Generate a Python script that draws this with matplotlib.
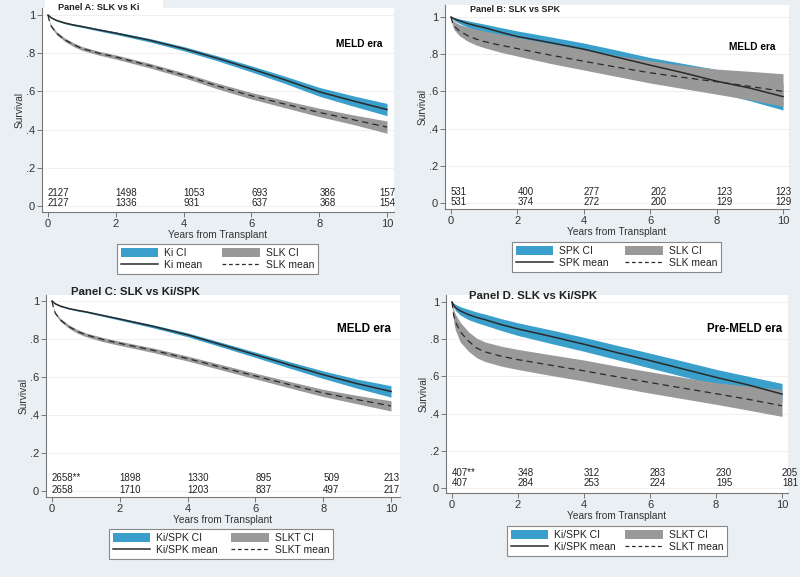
import numpy as np
import matplotlib
matplotlib.use('Agg')
import matplotlib.pyplot as plt
from matplotlib.patches import Patch, Rectangle
from matplotlib.lines import Line2D

W, H = 800, 577
BG = '#e9eff2'
BLUE = '#3a9fca'
GRAY = '#999999'
LINE = '#2a2a2a'

years = [0, 0.05, 0.1, 0.25, 0.5, 0.75, 1, 1.5, 2, 3, 4, 5, 6, 7, 8, 9, 10]
risk_years = [0, 2, 4, 6, 8, 10]

# Panel A: SLK vs Ki (MELD era)
a_ki_mean = [1.0, 0.992, 0.985, 0.972, 0.958, 0.948, 0.94, 0.922, 0.905, 0.868, 0.824, 0.773, 0.718, 0.66, 0.598, 0.55, 0.505]
a_ki_lo = [1.0, 0.991, 0.983, 0.969, 0.954, 0.9435, 0.935, 0.916, 0.898, 0.859, 0.813, 0.760, 0.702, 0.641, 0.575, 0.523, 0.473]
a_ki_hi = [1.0, 0.993, 0.987, 0.975, 0.962, 0.9525, 0.945, 0.928, 0.912, 0.877, 0.835, 0.786, 0.734, 0.679, 0.621, 0.577, 0.537]
a_slk_mean = [1.0, 0.96, 0.94, 0.905, 0.87, 0.845, 0.825, 0.80, 0.78, 0.735, 0.685, 0.628, 0.577, 0.533, 0.49, 0.452, 0.413]
a_slk_lo = [1.0, 0.955, 0.934, 0.897, 0.861, 0.835, 0.815, 0.79, 0.769, 0.723, 0.672, 0.613, 0.56, 0.514, 0.468, 0.427, 0.381]
a_slk_hi = [1.0, 0.965, 0.946, 0.913, 0.879, 0.855, 0.835, 0.81, 0.791, 0.747, 0.698, 0.643, 0.594, 0.552, 0.512, 0.477, 0.445]
a_risk_1 = ['2127', '1498', '1053', '693', '386', '157']
a_risk_2 = ['2127', '1336', '931', '637', '368', '154']

# Panel B: SLK vs SPK (MELD era)
b_spk_mean = [1.0, 0.995, 0.99, 0.98, 0.965, 0.953, 0.943, 0.918, 0.895, 0.862, 0.827, 0.784, 0.741, 0.70, 0.655, 0.618, 0.572]
b_spk_lo = [1.0, 0.99, 0.98, 0.965, 0.945, 0.93, 0.915, 0.887, 0.86, 0.82, 0.78, 0.735, 0.69, 0.645, 0.595, 0.55, 0.50]
b_spk_hi = [1.0, 0.999, 0.997, 0.99, 0.98, 0.971, 0.962, 0.943, 0.925, 0.893, 0.86, 0.822, 0.782, 0.75, 0.718, 0.68, 0.645]
b_slk_mean = [1.0, 0.965, 0.95, 0.925, 0.9, 0.882, 0.868, 0.848, 0.83, 0.795, 0.762, 0.73, 0.70, 0.675, 0.652, 0.627, 0.60]
b_slk_lo = [1.0, 0.95, 0.93, 0.90, 0.87, 0.85, 0.835, 0.81, 0.79, 0.75, 0.715, 0.68, 0.645, 0.615, 0.585, 0.555, 0.52]
b_slk_hi = [1.0, 0.985, 0.975, 0.96, 0.945, 0.934, 0.925, 0.907, 0.89, 0.857, 0.825, 0.793, 0.765, 0.74, 0.72, 0.708, 0.695]
b_risk_1 = ['531', '400', '277', '202', '123', '123']
b_risk_2 = ['531', '374', '272', '200', '129', '129']

# Panel C: SLK vs Ki/SPK (MELD era)
c_ki_mean = [1.0, 0.992, 0.985, 0.973, 0.96, 0.951, 0.943, 0.924, 0.905, 0.866, 0.822, 0.77, 0.717, 0.664, 0.612, 0.565, 0.524]
c_ki_lo = [1.0, 0.991, 0.983, 0.970, 0.957, 0.947, 0.939, 0.919, 0.899, 0.858, 0.812, 0.758, 0.703, 0.647, 0.592, 0.541, 0.494]
c_ki_hi = [1.0, 0.993, 0.987, 0.976, 0.963, 0.955, 0.947, 0.929, 0.911, 0.874, 0.832, 0.782, 0.731, 0.681, 0.632, 0.589, 0.554]
c_slk_mean = [1.0, 0.958, 0.935, 0.90, 0.865, 0.84, 0.822, 0.797, 0.777, 0.74, 0.697, 0.651, 0.605, 0.56, 0.516, 0.481, 0.448]
c_slk_lo = [1.0, 0.953, 0.929, 0.892, 0.856, 0.83, 0.812, 0.786, 0.766, 0.728, 0.684, 0.637, 0.59, 0.543, 0.497, 0.459, 0.421]
c_slk_hi = [1.0, 0.963, 0.941, 0.908, 0.874, 0.85, 0.832, 0.808, 0.788, 0.752, 0.710, 0.665, 0.62, 0.577, 0.535, 0.503, 0.475]
c_risk_1 = ['2658**', '1898', '1330', '895', '509', '213']
c_risk_2 = ['2658', '1710', '1203', '837', '497', '217']

# Panel D: SLK vs Ki/SPK (pre-MELD era)
d_ki_mean = [1.0, 0.983, 0.97, 0.952, 0.932, 0.917, 0.905, 0.878, 0.855, 0.815, 0.773, 0.728, 0.685, 0.64, 0.595, 0.553, 0.505]
d_ki_lo = [1.0, 0.975, 0.955, 0.93, 0.905, 0.889, 0.875, 0.846, 0.82, 0.777, 0.735, 0.69, 0.645, 0.60, 0.555, 0.51, 0.465]
d_ki_hi = [1.0, 0.993, 0.988, 0.975, 0.96, 0.946, 0.935, 0.91, 0.888, 0.85, 0.81, 0.767, 0.725, 0.682, 0.638, 0.60, 0.562]
d_slk_mean = [1.0, 0.93, 0.895, 0.84, 0.79, 0.752, 0.732, 0.708, 0.69, 0.66, 0.63, 0.598, 0.567, 0.537, 0.507, 0.476, 0.442]
d_slk_lo = [1.0, 0.895, 0.85, 0.785, 0.735, 0.70, 0.68, 0.655, 0.637, 0.605, 0.575, 0.542, 0.51, 0.48, 0.45, 0.418, 0.385]
d_slk_hi = [1.0, 0.96, 0.935, 0.89, 0.84, 0.805, 0.785, 0.762, 0.745, 0.716, 0.688, 0.655, 0.625, 0.595, 0.566, 0.548, 0.53]
d_risk_1 = ['407**', '348', '312', '283', '230', '205']
d_risk_2 = ['407', '284', '253', '224', '195', '181']

plt.rcParams['font.family'] = ['Liberation Sans', 'DejaVu Sans']


def make_axes(fig, x0, x10, y0, y1, box):
    # pixel positions of x=0, x=10, y=0, y=1 and the white plot box (L, R, T, B)
    L, R, T, B = box
    sx = (x10 - x0) / 10.0
    sy = float(y0 - y1)
    ax = fig.add_axes([L / W, 1 - B / H, (R - L) / W, (B - T) / H])
    ax.set_facecolor('white')
    ax.set_xlim((L - x0) / sx, (R - x0) / sx)
    ax.set_ylim((y0 - B) / sy, (y0 - T) / sy)
    ax.set_xticks([0, 2, 4, 6, 8, 10])
    ax.set_yticks([0, 0.2, 0.4, 0.6, 0.8, 1.0])
    ax.set_yticklabels(['0', '.2', '.4', '.6', '.8', '1'])
    for s in ['top', 'right']:
        ax.spines[s].set_visible(False)
    for s in ['left', 'bottom']:
        ax.spines[s].set_color('#777777')
        ax.spines[s].set_linewidth(0.8)
    ax.tick_params(direction='out', length=3.5, width=0.7, color='#777777',
                   labelsize=8, labelcolor='#333333', pad=1.5)
    ax.grid(axis='y', color='#f0f0f0', linewidth=0.8)
    ax.set_axisbelow(True)
    ax.set_xlabel('Years from Transplant', fontsize=7.3, color='#333333', labelpad=0.5)
    ax.set_ylabel('Survival', fontsize=7.3, color='#333333', labelpad=1)
    return ax


def draw_panel(ax, ki, slk, risk1, risk2, risk_x, risk_y):
    ax.fill_between(years, ki[1], ki[2], color=BLUE, lw=0)
    ax.fill_between(years, slk[1], slk[2], color=GRAY, lw=0)
    ax.plot(years, ki[0], color=LINE, lw=1.1)
    ax.plot(years, slk[0], color=LINE, lw=0.9, dashes=(5, 3.5))
    for x, r1, r2 in zip(risk_x, risk1, risk2):
        ax.text(x, risk_y[0], r1, fontsize=7, color='#222222', ha='left', va='center')
        ax.text(x, risk_y[1], r2, fontsize=7, color='#222222', ha='left', va='center')


def add_legend(fig, ax, box, labels):
    L, R, T, B = box
    handles = [Patch(facecolor=BLUE, edgecolor='none'),
               Line2D([], [], color=LINE, lw=1.1),
               Patch(facecolor=GRAY, edgecolor='none'),
               Line2D([], [], color=LINE, lw=0.9, dashes=(3, 2.2))]
    leg = ax.legend(handles, labels, loc='upper left', ncol=2, mode='expand',
                    bbox_to_anchor=(L / W, 1 - B / H, (R - L) / W, (B - T) / H),
                    bbox_transform=fig.transFigure, fontsize=7.5, frameon=True,
                    fancybox=False, edgecolor='#888888', framealpha=1,
                    borderpad=0.35, labelspacing=0.2, handlelength=3.6,
                    handleheight=1.0, handletextpad=0.6, columnspacing=1.5,
                    borderaxespad=0)
    leg.get_frame().set_linewidth(0.8)
    for t in leg.get_texts():
        t.set_color('#222222')


def main():
    fig = plt.figure(figsize=(W / 100, H / 100), dpi=100)
    fig.patch.set_facecolor(BG)

    # title tab of panel A
    fig.patches.append(Rectangle((45 / W, 1 - 10 / H), 118 / W, 10 / H,
                                 transform=fig.transFigure, facecolor='white',
                                 edgecolor='none', zorder=0))

    ax = make_axes(fig, 48, 387, 206, 15, (42, 394, 8, 212))
    draw_panel(ax, (a_ki_mean, a_ki_lo, a_ki_hi), (a_slk_mean, a_slk_lo, a_slk_hi),
               a_risk_1, a_risk_2, risk_years[:-1] + [9.77], (0.068, 0.016))
    ax.text(9.88, 0.848, 'MELD era', fontsize=7.3, fontweight='bold', ha='right', va='center')
    fig.text(58 / W, 1 - 7 / H, 'Panel A: SLK vs Ki', fontsize=6.6,
             fontweight='bold', color='#222222', va='center')
    add_legend(fig, ax, (117, 318, 244, 278), ['Ki CI', 'Ki mean', 'SLK CI', 'SLK mean'])

    ax = make_axes(fig, 451, 783, 203, 17, (445, 789, 5, 209))
    draw_panel(ax, (b_spk_mean, b_spk_lo, b_spk_hi), (b_slk_mean, b_slk_lo, b_slk_hi),
               b_risk_1, b_risk_2, risk_years[:-1] + [9.76], (0.059, 0.006))
    ax.text(9.76, 0.839, 'MELD era', fontsize=7.3, fontweight='bold', ha='right', va='center')
    fig.text(470 / W, 1 - 10 / H, 'Panel B: SLK vs SPK', fontsize=6.5,
             fontweight='bold', color='#222222', va='center')
    add_legend(fig, ax, (512, 721, 242, 276), ['SPK CI', 'SPK mean', 'SLK CI', 'SLK mean'])

    ax = make_axes(fig, 52, 391, 491, 301, (46, 400, 295, 497))
    draw_panel(ax, (c_ki_mean, c_ki_lo, c_ki_hi), (c_slk_mean, c_slk_lo, c_slk_hi),
               c_risk_1, c_risk_2, risk_years[:-1] + [9.78], (0.067, 0.006))
    ax.text(10.0, 0.853, 'MELD era', fontsize=8.5, fontweight='bold', ha='right', va='center')
    fig.text(71 / W, 1 - 292 / H, 'Panel C: SLK vs Ki/SPK', fontsize=8.2,
             fontweight='bold', color='#222222', va='center')
    add_legend(fig, ax, (109, 333, 529, 563), ['Ki/SPK CI', 'Ki/SPK mean', 'SLKT CI', 'SLKT mean'])

    ax = make_axes(fig, 452, 782, 488, 302, (446, 788, 295, 493))
    draw_panel(ax, (d_ki_mean, d_ki_lo, d_ki_hi), (d_slk_mean, d_slk_lo, d_slk_hi),
               d_risk_1, d_risk_2, risk_years, (0.082, 0.025))
    ax.text(10.0, 0.855, 'Pre-MELD era', fontsize=8.3, fontweight='bold', ha='right', va='center')
    fig.text(469 / W, 1 - 296 / H, 'Panel D. SLK vs Ki/SPK', fontsize=8.2,
             fontweight='bold', color='#222222', va='center')
    add_legend(fig, ax, (507, 727, 526, 558), ['Ki/SPK CI', 'Ki/SPK mean', 'SLKT CI', 'SLKT mean'])

    fig.savefig('out.png', dpi=100, facecolor=BG)


if __name__ == '__main__':
    main()
